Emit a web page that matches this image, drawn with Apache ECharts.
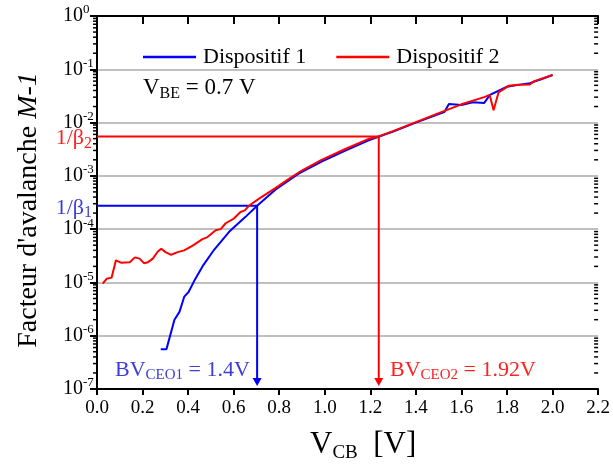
<!DOCTYPE html>
<html><head><meta charset="utf-8">
<script src="https://cdn.jsdelivr.net/npm/echarts@6/dist/echarts.min.js"></script>
<style>html,body{margin:0;padding:0;background:#fff}#c{width:613px;height:468px}</style>
</head><body><div id="c"></div>
<script>
const FONT = '"Liberation Serif","Times New Roman",serif';

// X tick labels
const xTickLabels = ['0.0','0.2','0.4','0.6','0.8','1.0','1.2','1.4','1.6','1.8','2.0','2.2'];
// Dispositif 1 (blue)
const d1X = [0.28,0.305,0.34,0.362,0.383,0.402,0.427,0.463,0.514,0.58,0.652,0.703,0.783,0.885,0.986,1.088,1.19,1.30,1.40,1.50,1.525,1.545,1.60,1.65,1.70,1.725,1.80,1.85,1.90,1.95,2.0];
const d1Y = [5.6e-7,5.6e-7,2.0e-6,2.8e-6,5.4e-6,6.6e-6,1.07e-5,2.0e-5,4.1e-5,8.9e-5,1.7e-4,2.75e-4,5.5e-4,1.1e-3,1.86e-3,2.95e-3,4.6e-3,6.8e-3,1.0e-2,1.45e-2,1.58e-2,2.24e-2,2.14e-2,2.4e-2,2.34e-2,3.3e-2,4.7e-2,5.1e-2,5.5e-2,6.5e-2,7.8e-2];
// Dispositif 2 (red)
const d2X = [0.025,0.042,0.064,0.083,0.105,0.144,0.166,0.187,0.206,0.224,0.245,0.267,0.282,0.301,0.325,0.354,0.383,0.42,0.463,0.485,0.521,0.543,0.565,0.601,0.63,0.649,0.667,0.71,0.783,0.841,0.899,0.986,1.088,1.19,1.237,1.30,1.40,1.50,1.60,1.70,1.724,1.741,1.763,1.807,1.85,1.90,1.92,2.0];
const d2Y = [9.5e-6,1.17e-5,1.23e-5,2.6e-5,2.35e-5,2.4e-5,2.95e-5,2.8e-5,2.3e-5,2.4e-5,2.8e-5,3.8e-5,4.3e-5,3.7e-5,3.3e-5,3.7e-5,4.0e-5,4.9e-5,6.5e-5,7.1e-5,9.5e-5,1.0e-4,1.29e-4,1.58e-4,2.1e-4,2.25e-4,2.75e-4,3.7e-4,5.9e-4,8.7e-4,1.26e-3,2.0e-3,3.16e-3,4.9e-3,5.5e-3,6.9e-3,1.02e-2,1.5e-2,2.2e-2,3.0e-2,3.3e-2,1.7e-2,3.7e-2,4.9e-2,5.1e-2,5.2e-2,6.0e-2,7.8e-2];
// Annotations: 1/beta levels and breakdown voltages (arrow positions)
const beta1 = 2.75e-4, bvX1 = 0.703;
const beta2 = 5.5e-3,  bvX2 = 1.237;
const arrowY = 1.35e-7;
const yMin = 1e-7, yMax = 1;
const minorMantissas = [2,3,4,5,6,7,8,9];
const decades = [-7,-6,-5,-4,-3,-2,-1];

const BLUE = '#0000ff', RED = '#ff0000', BLUE_T = '#3d3dd6', RED_T = '#ff2020';

function zip(xs, ys){ return xs.map((x,i)=>[x, ys[i]]); }

const chart = echarts.init(document.getElementById('c'), null, {renderer:'canvas'});

const arrowItem = (x, color) => ({value:[x, arrowY], symbol:'triangle', symbolSize:[9,8], symbolRotate:180, itemStyle:{color:color}});

const option = {
  animation:false,
  backgroundColor:'#fff',
  textStyle:{fontFamily:FONT},
  grid:{left:97, right:11, top:16, bottom:79, containLabel:false},
  legend:{
    left:138, top:41, itemWidth:53, itemHeight:2.5, itemGap:30,
    textStyle:{fontFamily:FONT, fontSize:22, color:'#000', padding:[0,0,0,2]},
    data:[{name:'Dispositif 1', icon:'rect'},{name:'Dispositif 2', icon:'rect'}]
  },
  xAxis:[{
    type:'value', min:0, max:2.2, interval:0.2,
    axisLine:{lineStyle:{color:'#000', width:2}},
    axisTick:{inside:false, length:6, lineStyle:{color:'#000', width:2}},
    axisLabel:{fontFamily:FONT, fontSize:19, color:'#000', margin:10, formatter:(v)=>{const i=Math.round(v/0.2);return xTickLabels[i];}},
    splitLine:{show:false}
  },{
    type:'value', position:'top', min:0, max:2.2, interval:0.2,
    axisLine:{lineStyle:{color:'#000', width:2}},
    axisTick:{inside:true, length:8, lineStyle:{color:'#000', width:2}},
    axisLabel:{show:false}, splitLine:{show:false}
  }],
  yAxis:[{
    type:'log', logBase:10, min:yMin, max:yMax,
    axisLine:{lineStyle:{color:'#000', width:2}},
    axisTick:{inside:false, length:7, lineStyle:{color:'#000', width:2}},
    axisLabel:{fontFamily:FONT, color:'#000', margin:34, align:'left',
      formatter:(v)=>'{b|10}{s|'+Math.round(Math.log10(v))+'}',
      rich:{b:{fontFamily:FONT, fontSize:20, color:'#000'}, s:{fontFamily:FONT, fontSize:13, color:'#000', padding:[0,0,12,0]}}},
    splitLine:{show:true, lineStyle:{color:'#aaaaaa', width:1.5}}
  },{
    type:'log', logBase:10, min:yMin, max:yMax, position:'right',
    axisLine:{lineStyle:{color:'#000', width:2}},
    axisTick:{inside:true, length:7, lineStyle:{color:'#000', width:2}},
    axisLabel:{show:false}, splitLine:{show:false}
  }],
  series:[
    {name:'Dispositif 1', type:'line', data:zip(d1X,d1Y), showSymbol:false, symbol:'none', lineStyle:{color:BLUE, width:2}, itemStyle:{color:BLUE}, z:3},
    {name:'Dispositif 2', type:'line', data:zip(d2X,d2Y), showSymbol:false, symbol:'none', lineStyle:{color:RED, width:2}, itemStyle:{color:RED}, z:4},
    {name:'ann1', type:'line', data:[[0,beta1],[bvX1,beta1],arrowItem(bvX1,BLUE)], symbol:'none', showSymbol:true, lineStyle:{color:BLUE, width:2}, itemStyle:{color:BLUE}, z:2},
    {name:'ann2', type:'line', data:[[0,beta2],[bvX2,beta2],arrowItem(bvX2,RED)], symbol:'none', showSymbol:true, lineStyle:{color:RED, width:2}, itemStyle:{color:RED}, z:2},
    {name:'minor', type:'custom', data:[[0]], silent:true, z:5,
      renderItem:(params, api)=>{
        const children=[];
        decades.forEach(k=>{
          minorMantissas.forEach(m=>{
            const v=m*Math.pow(10,k);
            const pl=api.coord([0,v]);
            const pr=api.coord([2.2,v]);
            children.push({type:'line', shape:{x1:pl[0]-4,y1:pl[1],x2:pl[0],y2:pl[1]}, style:{stroke:'#000', lineWidth:1.5}});
            children.push({type:'line', shape:{x1:pr[0]-4,y1:pr[1],x2:pr[0],y2:pr[1]}, style:{stroke:'#000', lineWidth:1.5}});
          });
        });
        return {type:'group', children};
      }}
  ]
};
chart.setOption(option);

const p1 = chart.convertToPixel({xAxisIndex:0, yAxisIndex:0}, [0, beta1]);
const p2 = chart.convertToPixel({xAxisIndex:0, yAxisIndex:0}, [0, beta2]);

chart.setOption({graphic:[
  {type:'text', x:29, y:210, rotation:Math.PI/2, style:{
    text:'{n|Facteur d\'avalanche }{i|M-1}', align:'center', verticalAlign:'middle',
    rich:{n:{fontFamily:FONT, fontSize:28, fill:'#000'}, i:{fontFamily:FONT, fontSize:28, fontStyle:'italic', fill:'#000'}}}},
  {type:'text', x:310, y:445, style:{
    text:'{m|V}{s|CB}{m|  [V]}', align:'left', verticalAlign:'middle',
    rich:{m:{fontFamily:FONT, fontSize:31, fill:'#000'}, s:{fontFamily:FONT, fontSize:19, fill:'#000', padding:[16,0,0,0]}}}},
  {type:'text', x:143, y:88, style:{
    text:'{m|V}{s|BE}{m| = 0.7 V}', align:'left', verticalAlign:'middle',
    rich:{m:{fontFamily:FONT, fontSize:23, fill:'#000'}, s:{fontFamily:FONT, fontSize:16, fill:'#000', padding:[12,0,0,0]}}}},
  {type:'text', x:115, y:370, style:{
    text:'{m|BV}{s|CEO1}{m| = 1.4V}', align:'left', verticalAlign:'middle',
    rich:{m:{fontFamily:FONT, fontSize:22, fill:BLUE_T}, s:{fontFamily:FONT, fontSize:15, fill:BLUE_T, padding:[11,0,0,0]}}}},
  {type:'text', x:390, y:370, style:{
    text:'{m|BV}{s|CEO2}{m| = 1.92V}', align:'left', verticalAlign:'middle',
    rich:{m:{fontFamily:FONT, fontSize:22, fill:RED_T}, s:{fontFamily:FONT, fontSize:15, fill:RED_T, padding:[11,0,0,0]}}}},
  {type:'text', x:92, y:p1[1]+2, style:{
    text:'{m|1/β}{s|1}', align:'right', verticalAlign:'middle',
    rich:{m:{fontFamily:FONT, fontSize:22, fill:BLUE_T}, s:{fontFamily:FONT, fontSize:16, fill:BLUE_T, padding:[11,0,0,0]}}}},
  {type:'text', x:92, y:p2[1]+2, style:{
    text:'{m|1/β}{s|2}', align:'right', verticalAlign:'middle',
    rich:{m:{fontFamily:FONT, fontSize:22, fill:RED_T}, s:{fontFamily:FONT, fontSize:16, fill:RED_T, padding:[11,0,0,0]}}}}
]});
</script></body></html>
